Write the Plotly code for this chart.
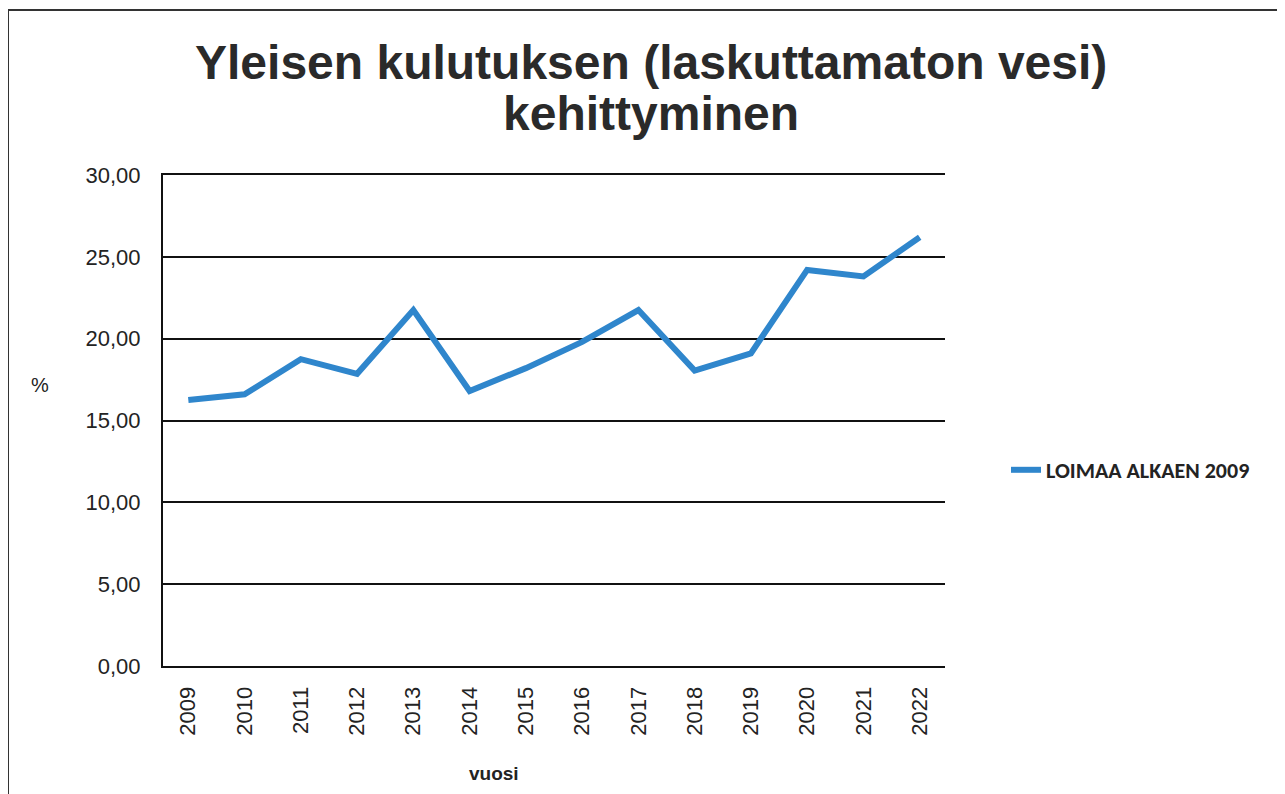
import plotly.graph_objects as go

years = ["2009", "2010", "2011", "2012", "2013", "2014", "2015", "2016",
         "2017", "2018", "2019", "2020", "2021", "2022"]
values = [16.25, 16.6, 18.75, 17.85, 21.75, 16.8, 18.2, 19.8,
          21.75, 18.05, 19.1, 24.2, 23.8, 26.2]
series_name = "LOIMAA ALKAEN 2009"
y_ticks = [0, 5, 10, 15, 20, 25, 30]

OFF = 8  # page body margin
W, H = 1285 - OFF, 794 - OFF
# plot area in reference (window) pixels
L, R, T, B = 163, 945, 175, 666


def px_x(p):
    return (p - L) / (R - L)


def px_y(p):
    return (B - p) / (B - T)


fig = go.Figure()
fig.add_trace(go.Scatter(
    x=years, y=values, mode="lines", name=series_name,
    line=dict(color="#2f86cc", width=6),
))

TXT = "#232323"
fig.update_layout(
    width=W, height=H,
    margin=dict(l=L - OFF, r=W - (R - OFF), t=T - OFF, b=H - (B - OFF), autoexpand=False),
    paper_bgcolor="white", plot_bgcolor="white",
    separators=",.",
    font=dict(family="Liberation Sans, Arial, sans-serif", color=TXT),
    showlegend=True,
    legend=dict(
        x=px_x(1006), y=px_y(470), xanchor="left", yanchor="middle",
        font=dict(family="Carlito, Liberation Sans, sans-serif", size=22, color=TXT, weight="bold"),
        bgcolor="rgba(0,0,0,0)",
    ),
    xaxis=dict(
        type="category", range=[-0.45, 13.45],
        tickangle=-90, tickfont=dict(size=22, color=TXT),
        showgrid=False, showline=True, mirror=True, linecolor="#111", linewidth=2,
        ticks="outside", ticklen=10, tickcolor="rgba(0,0,0,0)", zeroline=False,
    ),
    yaxis=dict(
        range=[0, 30], tickvals=y_ticks, tickformat=".2f",
        tickfont=dict(size=22, color=TXT),
        showgrid=True, gridcolor="#111", gridwidth=2,
        showline=True, linecolor="#111", linewidth=2,
        ticks="outside", ticklen=16, tickcolor="rgba(0,0,0,0)", zeroline=False,
    ),
    annotations=[
        dict(text="<b>Yleisen kulutuksen (laskuttamaton vesi)</b>",
             x=px_x(651), y=px_y(62), xref="paper", yref="paper",
             xanchor="center", yanchor="middle", showarrow=False,
             font=dict(size=48, color="#2a2a2a")),
        dict(text="<b>kehittyminen</b>",
             x=px_x(651), y=px_y(114), xref="paper", yref="paper",
             xanchor="center", yanchor="middle", showarrow=False,
             font=dict(size=48, color="#2a2a2a")),
        dict(text="%", x=px_x(29), y=px_y(385), xref="paper", yref="paper",
             showarrow=False, font=dict(size=20, color=TXT)),
        dict(text="<b>vuosi</b>", x=px_x(494), y=px_y(786), xref="paper", yref="paper",
             showarrow=False, font=dict(size=19, color=TXT)),
    ],
    shapes=[
        dict(type="rect", xref="paper", yref="paper",
             x0=px_x(8), x1=px_x(1300), y0=px_y(830), y1=px_y(10),
             line=dict(color="#333", width=2), fillcolor="rgba(0,0,0,0)"),
    ],
)

fig.write_html("out.html")
